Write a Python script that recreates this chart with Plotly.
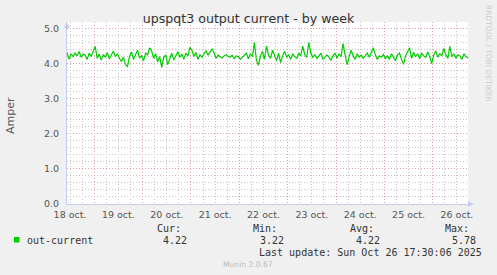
import pandas as pd
import plotly.graph_objects as go

# ---- data (hourly averages) ----
START = "2025-10-18 10:30"
out_current = [
    4.32, 4.12, 4.28, 4.20, 4.30, 4.22, 4.35, 4.18, 4.27, 4.24,
    4.12, 4.30, 4.20, 4.33, 4.49, 4.15, 4.27, 4.10, 4.25, 4.19,
    4.31, 4.14, 4.24, 4.35, 4.20, 4.28, 4.15, 4.06, 4.18, 3.98,
    3.91, 4.20, 4.33, 4.12, 4.25, 4.38, 4.16, 4.22, 4.08, 4.30,
    4.25, 4.45, 4.36, 4.15, 4.28, 4.05, 4.20, 3.89, 4.18, 4.25,
    3.97, 4.15, 4.30, 4.10, 4.22, 4.34, 4.18, 4.27, 4.12, 4.30,
    4.22, 4.46, 4.38, 4.20, 4.32, 4.12, 4.25, 4.18, 4.28, 4.36,
    4.24, 4.32, 4.42, 4.30, 4.15, 4.24, 4.20, 4.16, 4.22, 4.26,
    4.20, 4.18, 4.24, 4.14, 4.22, 4.20, 4.12, 4.18, 4.25, 4.30,
    4.14, 4.28, 4.20, 4.60, 4.10, 3.95, 4.22, 4.35, 4.12, 4.50,
    4.25, 4.15, 4.38, 4.20, 4.08, 4.30, 4.03, 4.22, 4.35, 4.18,
    4.25, 4.12, 4.28, 4.20, 4.15, 4.30, 4.22, 4.50, 4.25, 4.18,
    4.60, 4.30, 4.18, 4.25, 4.15, 4.22, 4.30, 4.12, 4.20, 4.25,
    4.18, 4.10, 4.22, 4.30, 4.15, 4.28, 4.20, 4.57, 4.25, 3.97,
    4.20, 4.38, 4.22, 4.12, 4.28, 4.18, 4.24, 4.15, 4.22, 4.30,
    4.18, 4.32, 4.45, 4.25, 4.12, 4.22, 4.18, 4.26, 4.14, 4.22,
    4.12, 4.28, 4.18, 4.08, 4.25, 4.30, 4.12, 3.98, 4.22, 4.35,
    4.45, 4.15, 4.32, 4.20, 4.28, 4.14, 4.30, 4.22, 4.18, 4.33,
    4.20, 4.00, 4.25, 4.36, 4.18, 4.28, 4.22, 4.43, 4.25, 4.15,
    4.49, 4.20, 4.28, 4.15, 4.25, 4.22, 4.12, 4.28, 4.20, 4.16,
]
times = pd.date_range(START, periods=len(out_current), freq="h")

series_name = "out-current"
stat_labels = ["Cur:", "Min:", "Avg:", "Max:"]
stat_values = ["4.22", "3.22", "4.22", "5.78"]
title_text = "upspqt3 output current - by week"
y_label = "Amper"
last_update = "Last update: Sun Oct 26 17:30:06 2025"
footer = "Munin 2.0.67"
side_text = "RRDTOOL / TOBI OETIKER"

# ---- layout constants ----
W, H = 497, 275
L, R, T, B = 67, 29, 22, 71
PW = W - L - R
PH = H - T - B
GREEN = "#00CC00"
MAJOR = "#e4a0a0"
MINOR = "#c4c4c4"
AXIS = "#c6cdf5"
TXT = "#333333"
SANS = "DejaVu Sans"
MONO = "DejaVu Sans Mono"
DASH = "1px,2px"
DAY = 86400000


def px(x):
    return (x - L) / PW


def py(y):
    return (H - B - y) / PH


fig = go.Figure()
fig.add_trace(go.Scatter(x=times, y=out_current, mode="lines",
                         line=dict(color=GREEN, width=1.2), showlegend=False,
                         hoverinfo="skip"))
# empty helper trace so the grid-only axis is drawn
fig.add_trace(go.Scatter(x=[], y=[], xaxis="x2", yaxis="y", showlegend=False,
                         hoverinfo="skip"))

xrange = [times[0], times[-1]]
fig.update_layout(
    width=W, height=H, autosize=False,
    margin=dict(l=L, r=R, t=T, b=B, pad=0),
    paper_bgcolor="#F0F0F0", plot_bgcolor="#FFFFFF",
    showlegend=False,
    title=dict(text=title_text, xref="container", x=0.5, xanchor="center",
               yref="container", y=1 - 19 / H, yanchor="middle",
               font=dict(family=SANS, size=12.6, color=TXT)),
    xaxis=dict(type="date", range=xrange,
               tick0="2025-10-18", dtick=DAY, ticklabelmode="period",
               tickformat="%-d oct.", ticks="", showgrid=False,
               showline=True, linecolor=AXIS, linewidth=1, zeroline=False,
               tickfont=dict(family=SANS, size=9.5, color="#555555"),
               ticklabelstandoff=2, fixedrange=True),
    xaxis2=dict(type="date", range=xrange, overlaying="x", matches="x",
                side="bottom", tick0="2025-10-18", dtick=DAY, ticks="",
                showticklabels=False, showgrid=True,
                gridcolor=MAJOR, griddash=DASH, gridwidth=1,
                minor=dict(dtick=DAY / 4, tick0="2025-10-18", showgrid=True,
                           gridcolor=MINOR, griddash=DASH, gridwidth=1),
                showline=False, zeroline=False, fixedrange=True),
    yaxis=dict(range=[0, 5 * PH / (PH - 6.5)], tick0=0, dtick=1,
               tickformat=".1f", ticks="", showgrid=True,
               gridcolor=MAJOR, griddash=DASH, gridwidth=1,
               minor=dict(dtick=0.2, tick0=0, showgrid=True,
                          gridcolor=MINOR, griddash=DASH, gridwidth=1),
               showline=True, linecolor=AXIS, linewidth=1, zeroline=False,
               tickfont=dict(family=SANS, size=9.5, color="#555555"),
               ticklabelstandoff=5, fixedrange=True),
)

shapes = [
    # arrow at top of y axis
    dict(type="path", xref="paper", yref="paper", xsizemode="pixel",
         ysizemode="pixel", xanchor=0, yanchor=1,
         path="M -3,-6 L 3,-6 L 0,0 Z", fillcolor=AXIS, line=dict(width=0)),
    # arrow at right end of x axis
    dict(type="path", xref="paper", yref="paper", xsizemode="pixel",
         ysizemode="pixel", xanchor=1, yanchor=0,
         path="M 0,-3 L 0,3 L 6,0 Z", fillcolor=AXIS, line=dict(width=0)),
    # legend colour box
    dict(type="rect", xref="paper", yref="paper",
         x0=px(14), x1=px(19.5), y0=py(242.5), y1=py(237),
         fillcolor=GREEN, line=dict(width=0)),
]
fig.update_layout(shapes=shapes)

ann = []
ann.append(dict(text=y_label, xref="paper", yref="paper", x=px(11), y=py(116),
                textangle=-90, showarrow=False, xanchor="center", yanchor="middle",
                font=dict(family=SANS, size=11, color="#555555")))
ann.append(dict(text=series_name, xref="paper", yref="paper", x=px(25.5), y=py(240),
                showarrow=False, xanchor="left", yanchor="middle",
                font=dict(family=MONO, size=10, color=TXT)))
label_right = [182, 278, 375, 470]
value_right = [188, 285, 381, 477]
for lab, lr in zip(stat_labels, label_right):
    ann.append(dict(text=lab, xref="paper", yref="paper", x=px(lr), y=py(228),
                    showarrow=False, xanchor="right", yanchor="middle",
                    font=dict(family=MONO, size=10, color=TXT)))
for val, vr in zip(stat_values, value_right):
    ann.append(dict(text=val, xref="paper", yref="paper", x=px(vr), y=py(240),
                    showarrow=False, xanchor="right", yanchor="middle",
                    font=dict(family=MONO, size=10, color=TXT)))
ann.append(dict(text=last_update, xref="paper", yref="paper", x=px(483), y=py(252),
                showarrow=False, xanchor="right", yanchor="middle",
                font=dict(family=MONO, size=10, color=TXT)))
ann.append(dict(text=footer, xref="paper", yref="paper", x=px(248), y=py(264),
                showarrow=False, xanchor="center", yanchor="middle",
                font=dict(family=SANS, size=7.6, color="#bbbbbb")))
ann.append(dict(text=side_text, xref="paper", yref="paper", x=px(488), y=py(53),
                showarrow=False, xanchor="center", yanchor="middle", textangle=90,
                font=dict(family=SANS, size=7.5, color="#cccccc")))
for a in ann:
    a["borderpad"] = 0
fig.update_layout(annotations=ann)

fig.write_html("out.html", config={"displayModeBar": False})
